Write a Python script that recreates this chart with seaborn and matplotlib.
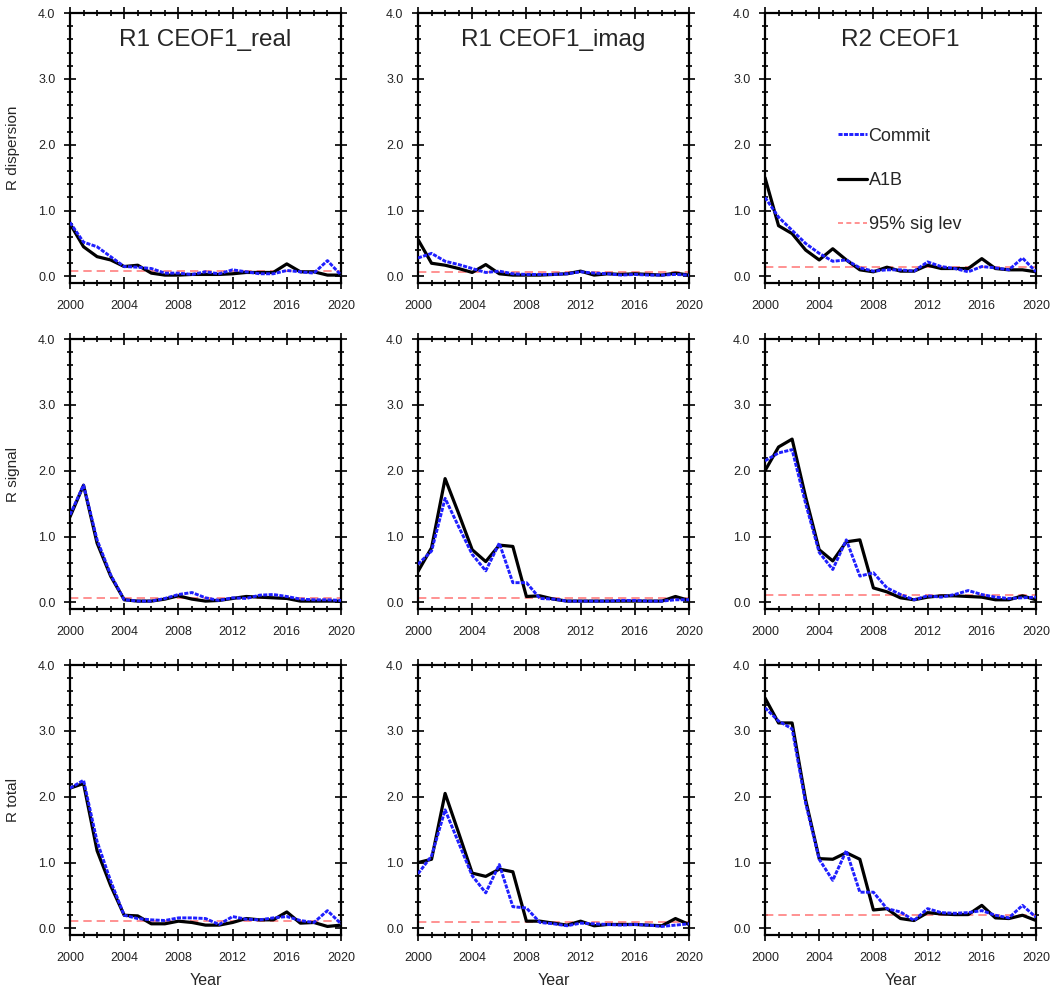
import matplotlib
matplotlib.use("Agg")
import matplotlib.pyplot as plt
from matplotlib.ticker import MultipleLocator, FormatStrFormatter
from matplotlib.lines import Line2D
import seaborn as sns

years = list(range(2000, 2021))

# row 1: R dispersion
a1b_disp_real = [0.80, 0.45, 0.30, 0.25, 0.15, 0.17, 0.05, 0.02, 0.02, 0.03, 0.03,
                 0.03, 0.04, 0.06, 0.06, 0.06, 0.19, 0.07, 0.07, 0.02, 0.02]
commit_disp_real = [0.82, 0.52, 0.45, 0.30, 0.15, 0.14, 0.12, 0.05, 0.05, 0.03, 0.07,
                    0.04, 0.10, 0.07, 0.04, 0.04, 0.09, 0.07, 0.05, 0.24, 0.02]
a1b_disp_imag = [0.56, 0.20, 0.17, 0.12, 0.06, 0.18, 0.04, 0.02, 0.02, 0.02, 0.03,
                 0.04, 0.08, 0.02, 0.04, 0.03, 0.04, 0.03, 0.02, 0.05, 0.02]
commit_disp_imag = [0.28, 0.35, 0.23, 0.18, 0.12, 0.06, 0.08, 0.04, 0.03, 0.03, 0.03,
                    0.04, 0.07, 0.05, 0.04, 0.02, 0.03, 0.02, 0.02, 0.03, 0.02]
a1b_disp_r2 = [1.50, 0.77, 0.65, 0.40, 0.25, 0.42, 0.25, 0.10, 0.07, 0.14, 0.08,
               0.08, 0.17, 0.12, 0.12, 0.12, 0.27, 0.12, 0.10, 0.10, 0.07]
commit_disp_r2 = [1.20, 0.90, 0.70, 0.50, 0.35, 0.23, 0.25, 0.13, 0.08, 0.10, 0.10,
                  0.08, 0.22, 0.15, 0.12, 0.07, 0.15, 0.13, 0.10, 0.28, 0.07]

# row 2: R signal
a1b_sig_real = [1.30, 1.78, 0.90, 0.40, 0.04, 0.02, 0.02, 0.05, 0.10, 0.05, 0.02,
                0.03, 0.06, 0.09, 0.08, 0.07, 0.06, 0.02, 0.02, 0.02, 0.02]
commit_sig_real = [1.33, 1.78, 0.95, 0.42, 0.04, 0.02, 0.02, 0.06, 0.12, 0.15, 0.07,
                   0.03, 0.07, 0.06, 0.11, 0.12, 0.09, 0.05, 0.04, 0.04, 0.03]
a1b_sig_imag = [0.47, 0.83, 1.88, 1.35, 0.80, 0.62, 0.87, 0.85, 0.09, 0.10, 0.05,
                0.02, 0.02, 0.02, 0.02, 0.02, 0.02, 0.02, 0.02, 0.09, 0.03]
commit_sig_imag = [0.58, 0.78, 1.58, 1.15, 0.73, 0.48, 0.90, 0.30, 0.30, 0.06, 0.05,
                   0.02, 0.02, 0.02, 0.02, 0.03, 0.03, 0.02, 0.02, 0.04, 0.04]
a1b_sig_r2 = [2.00, 2.36, 2.48, 1.60, 0.80, 0.63, 0.92, 0.95, 0.22, 0.16, 0.07,
              0.04, 0.08, 0.10, 0.10, 0.09, 0.08, 0.04, 0.04, 0.10, 0.04]
commit_sig_r2 = [2.15, 2.27, 2.32, 1.50, 0.76, 0.50, 0.95, 0.40, 0.45, 0.22, 0.12,
                 0.04, 0.10, 0.08, 0.12, 0.18, 0.12, 0.08, 0.06, 0.07, 0.08]

# row 3: R total
a1b_tot_real = [2.13, 2.20, 1.18, 0.65, 0.20, 0.19, 0.07, 0.07, 0.11, 0.09, 0.05,
                0.05, 0.09, 0.15, 0.13, 0.13, 0.25, 0.08, 0.09, 0.03, 0.05]
commit_tot_real = [2.13, 2.25, 1.32, 0.72, 0.20, 0.15, 0.13, 0.12, 0.16, 0.16, 0.15,
                   0.06, 0.18, 0.14, 0.13, 0.16, 0.18, 0.12, 0.09, 0.27, 0.07]
a1b_tot_imag = [1.00, 1.05, 2.05, 1.45, 0.84, 0.79, 0.90, 0.86, 0.11, 0.11, 0.08,
                0.05, 0.11, 0.04, 0.06, 0.06, 0.06, 0.05, 0.04, 0.15, 0.06]
commit_tot_imag = [0.83, 1.10, 1.80, 1.30, 0.80, 0.54, 0.97, 0.33, 0.31, 0.09, 0.07,
                   0.04, 0.08, 0.07, 0.06, 0.05, 0.06, 0.05, 0.03, 0.05, 0.07]
a1b_tot_r2 = [3.50, 3.12, 3.12, 1.95, 1.06, 1.05, 1.15, 1.05, 0.28, 0.30, 0.15,
              0.12, 0.24, 0.22, 0.21, 0.21, 0.35, 0.16, 0.15, 0.20, 0.12]
commit_tot_r2 = [3.35, 3.15, 3.03, 1.90, 1.05, 0.73, 1.18, 0.55, 0.55, 0.30, 0.25,
                 0.12, 0.30, 0.24, 0.23, 0.24, 0.27, 0.20, 0.16, 0.35, 0.17]

# 95% significance levels per panel
sig_levels = [[0.08, 0.06, 0.14],
              [0.07, 0.07, 0.11],
              [0.11, 0.10, 0.20]]

col_titles = ["R1 CEOF1_real", "R1 CEOF1_imag", "R2 CEOF1"]
row_labels = ["R dispersion", "R signal", "R total"]

a1b = [[a1b_disp_real, a1b_disp_imag, a1b_disp_r2],
       [a1b_sig_real, a1b_sig_imag, a1b_sig_r2],
       [a1b_tot_real, a1b_tot_imag, a1b_tot_r2]]
commit = [[commit_disp_real, commit_disp_imag, commit_disp_r2],
          [commit_sig_real, commit_sig_imag, commit_sig_r2],
          [commit_tot_real, commit_tot_imag, commit_tot_r2]]

sns.set_style("ticks")
plt.rcParams["font.family"] = ["Liberation Sans", "DejaVu Sans"]

W, H = 1055, 990
fig = plt.figure(figsize=(W / 100, H / 100), dpi=100)

lefts = [70, 418, 765]
tops = [13, 339, 665]
pw, ph = 271, 270

sig_color = "#ff7f7f"
blue = "#1f1fff"
blue_dash = (1.4, 0.45)

for r in range(3):
    for c in range(3):
        ax = fig.add_axes([lefts[c] / W, 1 - (tops[r] + ph) / H, pw / W, ph / H])
        ax.axhline(sig_levels[r][c], color=sig_color, lw=1.2, ls=(0, (5, 3)), zorder=1)
        sns.lineplot(x=years, y=a1b[r][c], ax=ax, color="black", lw=2.3, zorder=2)
        sns.lineplot(x=years, y=commit[r][c], ax=ax, color=blue, lw=2.1,
                     zorder=3).lines[-1].set_dashes(blue_dash)

        ax.set_xlim(2000, 2020)
        ax.set_ylim(-0.1, 4.0)
        ax.xaxis.set_major_locator(MultipleLocator(4))
        ax.xaxis.set_minor_locator(MultipleLocator(1))
        ax.yaxis.set_major_locator(MultipleLocator(1))
        ax.yaxis.set_minor_locator(MultipleLocator(0.2))
        ax.yaxis.set_major_formatter(FormatStrFormatter("%.1f"))
        ax.tick_params(which="both", top=True, right=True, direction="inout",
                       width=1.2, color="black", labelsize=9, labelcolor="#222222")
        ax.tick_params(axis="x", which="major", length=9, pad=8)
        ax.tick_params(axis="y", which="major", length=9, pad=6)
        ax.tick_params(which="minor", length=5)
        for sp in ax.spines.values():
            sp.set_linewidth(1.6)
            sp.set_color("black")

        if r == 0:
            ax.text(0.5, 0.9, col_titles[c], transform=ax.transAxes,
                    ha="center", va="center", fontsize=17.5)
        if c == 0:
            ax.set_ylabel(row_labels[r], fontsize=11, labelpad=13)
        else:
            ax.set_ylabel("")
        if r == 2:
            ax.set_xlabel("Year", fontsize=11.5, labelpad=6)
        else:
            ax.set_xlabel("")

        if r == 0 and c == 2:
            handles = [
                Line2D([], [], color=blue, lw=2.1, dashes=blue_dash),
                Line2D([], [], color="black", lw=2.3),
                Line2D([], [], color=sig_color, lw=1.2, ls=(0, (3, 2))),
            ]
            ax.legend(handles, ["Commit", "A1B", "95% sig lev"],
                      loc="upper left", bbox_to_anchor=(0.27, 0.575),
                      frameon=False, fontsize=13, handlelength=1.6,
                      handletextpad=0.08, labelspacing=1.5,
                      borderpad=0, borderaxespad=0)

fig.savefig("out.png", dpi=100)
